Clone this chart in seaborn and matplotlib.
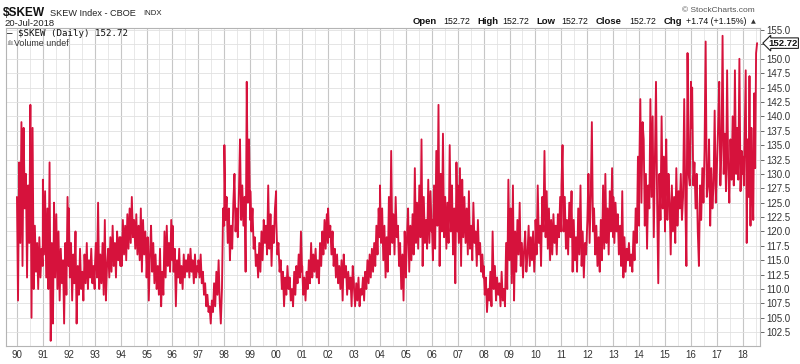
import pandas as pd
import matplotlib
matplotlib.use('Agg')
import matplotlib.pyplot as plt
import matplotlib.transforms as mtransforms
from matplotlib.ticker import MultipleLocator, FixedLocator, FixedFormatter, FuncFormatter
import seaborn as sns

# Valeurs (environ deux par mois)
skew_1990 = [126, 108, 132, 118, 139, 114, 138, 124, 130, 112, 128, 118, 142, 105, 138, 110, 121, 113, 118, 110, 119, 112, 117, 114]
skew_1991 = [129, 116, 127, 112, 124, 110, 132, 101, 118, 104, 125, 112, 123, 110, 120, 108, 117, 111, 115, 104, 118, 109, 126, 114]
skew_1992 = [124, 112, 118, 108, 116, 111, 120, 104, 114, 109, 117, 110, 113, 108, 116, 111, 118, 110, 115, 112, 117, 111, 114, 110]
skew_1993 = [113, 118, 112, 125, 110, 116, 111, 118, 109, 122, 108, 114, 117, 112, 119, 113, 121, 114, 118, 112, 120, 115, 119, 114]
skew_1994 = [119, 114, 122, 116, 121, 115, 123, 117, 124, 118, 126, 119, 122, 117, 123, 116, 121, 115, 124, 113, 122, 116, 120, 114]
skew_1995 = [112, 119, 108, 116, 121, 113, 118, 111, 116, 110, 114, 109, 117, 107, 113, 109, 120, 112, 121, 114, 118, 113, 122, 115]
skew_1996 = [121, 113, 117, 107, 115, 112, 117, 111, 114, 110, 116, 112, 115, 113, 116, 112, 117, 113, 115, 111, 116, 112, 114, 113]
skew_1997 = [115, 112, 116, 111, 113, 109, 111, 107, 109, 106, 107, 104, 108, 106, 111, 107, 113, 109, 115, 108, 104, 110, 124, 121]
skew_1998 = [135, 122, 126, 118, 124, 115, 121, 117, 125, 130, 120, 124, 119, 127, 136, 122, 128, 121, 126, 113, 146, 125, 136, 122]
skew_1999 = [127, 120, 124, 117, 119, 114, 116, 112, 118, 113, 120, 115, 122, 118, 121, 116, 128, 117, 123, 114, 121, 118, 124, 127]
skew_2000 = [122, 116, 118, 113, 115, 110, 113, 107, 112, 109, 114, 110, 112, 108, 110, 107, 113, 109, 114, 111, 116, 112, 120, 113]
skew_2001 = [114, 109, 112, 108, 113, 110, 115, 111, 118, 112, 116, 113, 117, 112, 115, 111, 118, 114, 120, 116, 122, 117, 123, 118]
skew_2002 = [124, 119, 121, 116, 120, 114, 117, 112, 116, 111, 114, 110, 115, 108, 116, 112, 114, 109, 113, 110, 112, 107, 114, 111]
skew_2003 = [110, 107, 111, 108, 112, 107, 110, 109, 112, 108, 113, 110, 115, 111, 116, 112, 117, 113, 118, 114, 121, 116, 124, 119]
skew_2004 = [128, 118, 124, 115, 121, 112, 119, 113, 126, 116, 134, 118, 123, 116, 126, 119, 121, 114, 118, 110, 116, 108, 120, 114]
skew_2005 = [112, 119, 124, 113, 121, 115, 123, 116, 131, 118, 125, 117, 128, 119, 136, 114, 126, 118, 122, 117, 129, 118, 127, 120]
skew_2006 = [122, 115, 128, 117, 134, 121, 142, 114, 130, 120, 137, 119, 126, 117, 125, 118, 135, 120, 128, 116, 124, 111, 132, 120]
skew_2007 = [128, 118, 131, 114, 129, 119, 126, 118, 124, 116, 127, 117, 121, 115, 125, 118, 120, 114, 122, 116, 118, 113, 116, 112]
skew_2008 = [114, 109, 112, 106, 110, 108, 113, 107, 120, 110, 114, 108, 112, 109, 111, 107, 113, 108, 110, 107, 118, 110, 129, 115]
skew_2009 = [118, 124, 111, 128, 108, 120, 113, 122, 116, 125, 114, 118, 112, 117, 120, 113, 116, 121, 114, 119, 115, 120, 113, 118]
skew_2010 = [122, 116, 128, 118, 121, 114, 126, 120, 134, 119, 127, 117, 124, 115, 122, 116, 123, 118, 121, 116, 123, 119, 126, 120]
skew_2011 = [128, 135, 120, 126, 117, 122, 116, 125, 119, 127, 113, 122, 115, 119, 113, 124, 116, 128, 114, 120, 112, 118, 116, 121]
skew_2012 = [122, 130, 118, 126, 139, 120, 124, 116, 121, 114, 119, 113, 122, 115, 128, 117, 130, 118, 124, 116, 127, 120, 131, 119]
skew_2013 = [126, 118, 125, 120, 123, 116, 121, 114, 127, 112, 119, 113, 117, 115, 118, 114, 116, 113, 120, 115, 124, 118, 133, 121]
skew_2014 = [130, 143, 125, 139, 136, 121, 130, 117, 128, 124, 143, 126, 140, 119, 132, 146, 125, 111, 130, 122, 140, 124, 133, 120]
skew_2015 = [128, 136, 122, 130, 125, 116, 128, 120, 126, 118, 131, 121, 127, 124, 130, 122, 126, 143, 125, 114, 151, 130, 128, 146]
skew_2016 = [138, 145, 128, 132, 124, 130, 120, 114, 128, 122, 131, 125, 134, 153, 126, 128, 136, 121, 131, 124, 128, 141, 125, 132]
skew_2017 = [132, 138, 146, 128, 135, 154, 130, 137, 127, 148, 131, 125, 136, 129, 140, 128, 148, 130, 138, 129, 150, 127, 134, 130]
skew_2018 = [133, 128, 138, 148, 118, 136, 126, 147, 121, 138, 128, 122, 144, 131, 150.98, 152.72]

yearly = [
    (1990, skew_1990), (1991, skew_1991), (1992, skew_1992), (1993, skew_1993),
    (1994, skew_1994), (1995, skew_1995), (1996, skew_1996), (1997, skew_1997),
    (1998, skew_1998), (1999, skew_1999), (2000, skew_2000), (2001, skew_2001),
    (2002, skew_2002), (2003, skew_2003), (2004, skew_2004), (2005, skew_2005),
    (2006, skew_2006), (2007, skew_2007), (2008, skew_2008), (2009, skew_2009),
    (2010, skew_2010), (2011, skew_2011), (2012, skew_2012), (2013, skew_2013),
    (2014, skew_2014), (2015, skew_2015), (2016, skew_2016), (2017, skew_2017),
    (2018, skew_2018),
]
year_ticks = list(range(1990, 2019))
year_labels = [f'{y % 100:02d}' for y in year_ticks]
last_close = 152.72

LINE_RED = '#d6123c'

frames = []
for yr, vals in yearly:
    end = '2018-07-20' if yr == 2018 else f'{yr}-12-31'
    dates = pd.date_range(f'{yr}-01-02', end, periods=len(vals))
    frames.append(pd.DataFrame({'date': dates, 'close': vals}))
df = pd.concat(frames, ignore_index=True)
df['t'] = df['date'].dt.year + (df['date'].dt.dayofyear - 1) / 365.25

sns.set_theme(style='white')
plt.rcParams['font.family'] = ['Liberation Sans', 'DejaVu Sans']

fig = plt.figure(figsize=(8, 3.64), dpi=100)
ax = fig.add_axes([6 / 800, 18 / 364, 754 / 800, 318 / 364])

sns.lineplot(data=df, x='t', y='close', ax=ax, color=LINE_RED, lw=1.35,
             estimator=None, sort=False)

ax.set_xlim(1989.58, 2018.66)
ax.set_ylim(100.1, 155.35)
ax.set_xlabel('')
ax.set_ylabel('')

# axe des x : années
ax.xaxis.set_major_locator(FixedLocator(year_ticks))
ax.xaxis.set_major_formatter(FixedFormatter(year_labels))
ax.xaxis.set_minor_locator(FixedLocator([y + 0.5 for y in year_ticks]))
ax.tick_params(axis='x', which='both', length=0, pad=3, labelsize=7, labelcolor='#333333')

# axe des y à droite (le 152.5 est caché par l'étiquette du dernier cours)
ax.yaxis.set_major_locator(MultipleLocator(2.5))
ax.yaxis.set_major_formatter(FuncFormatter(lambda v, p: '' if abs(v - 152.5) < 0.1 else f'{v:.1f}'))
ax.yaxis.tick_right()
ax.tick_params(axis='y', which='major', right=True, left=False, length=3, width=0.7,
               pad=1.5, labelsize=7, color='#666666', labelcolor='#333333')

ax.grid(which='major', axis='x', color='#c6c6c6', lw=0.8)
ax.grid(which='minor', axis='x', color='#e4e4e4', lw=0.6)
ax.grid(which='major', axis='y', color='#e0e0e0', lw=0.6)
ax.set_axisbelow(True)
for s in ax.spines.values():
    s.set_color('#b4b4b4')
    s.set_linewidth(0.8)

# étiquette du dernier cours
trans = mtransforms.blended_transform_factory(ax.transAxes, ax.transData)
ax.text(1.011, last_close, f'{last_close:.2f}', transform=trans, ha='left', va='center',
        fontsize=6.8, fontweight='bold', color='#111111', zorder=10, clip_on=False,
        bbox=dict(boxstyle='larrow,pad=0.08', fc='white', ec='#222222', lw=0.8))

# en-tête
def ftxt(x, y, s, **kw):
    fig.text(x / 800, 1 - y / 364, s, va='center', **kw)

ftxt(3, 13, '$SKEW', fontsize=8.6, fontweight='bold', color='#111111')
ftxt(50, 13, 'SKEW Index - CBOE', fontsize=6.6, color='#222222')
ftxt(143, 13.5, 'INDX', fontsize=5.6, color='#222222')
ftxt(4, 24, '20-Jul-2018', fontsize=6.8, color='#222222')
ftxt(682, 10, '\u00a9 StockCharts.com', fontsize=6.0, color='#555555')

header = [
    (413, 'Open', True), (443, '152.72', False), (477, 'High', True), (502, '152.72', False),
    (536, 'Low', True), (561, '152.72', False), (596, 'Close', True), (629, '152.72', False),
    (664, 'Chg', True), (686, '+1.74 (+1.15%)', False),
]
for x, s, bold in header:
    ftxt(x, 22, s, fontsize=6.8 if bold else 6.3,
         fontweight='bold' if bold else 'normal', color='#111111')
ftxt(751, 22, '\u25b2', fontsize=4.5, color='#333333', family='DejaVu Sans')

ftxt(7, 34, '\u2014 $SKEW (Daily) 152.72', fontsize=6.6, color='#111111', family='DejaVu Sans Mono')
ftxt(7, 43, '\u0131l\u0131', fontsize=5.0, color='#444444', family='DejaVu Sans')
ftxt(14, 43, 'Volume undef', fontsize=6.4, color='#333333')

fig.savefig('out.png', dpi=100, facecolor='white')
